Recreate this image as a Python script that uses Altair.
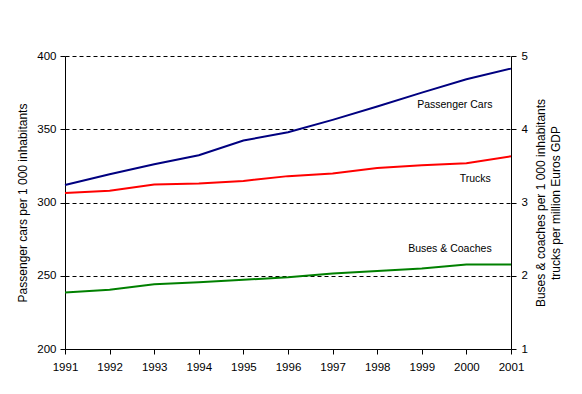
import altair as alt
import pandas as pd

years = [1991, 1992, 1993, 1994, 1995, 1996, 1997, 1998, 1999, 2000, 2001]
passenger_cars = [312, 319.3, 326.1, 332.3, 342.3, 348, 356.4, 365.5, 375, 384.1, 391.4]
trucks = [3.13, 3.16, 3.245, 3.26, 3.295, 3.36, 3.395, 3.47, 3.51, 3.535, 3.63]
buses = [1.77, 1.81, 1.885, 1.91, 1.945, 1.98, 2.03, 2.065, 2.1, 2.155, 2.155]

left_labels = ["Passenger Cars"]
left_label_x = [1999.74]
left_label_y = [366.6]
right_labels = ["Trucks", "Buses & Coaches"]
right_label_x = [2000.2, 1999.63]
right_label_y = [3.32, 2.365]

FONT = "Liberation Sans"

cars_df = pd.DataFrame({"year": years, "v": passenger_cars})
rb_df = pd.DataFrame({
    "year": years * 2,
    "v": trucks + buses,
    "series": ["Trucks"] * len(years) + ["Buses & Coaches"] * len(years),
})
ll_df = pd.DataFrame({"year": left_label_x, "v": left_label_y, "t": left_labels})
rl_df = pd.DataFrame({"year": right_label_x, "v": right_label_y, "t": right_labels})

x_enc = alt.X(
    "year:Q",
    scale=alt.Scale(domain=[1991, 2001], nice=False, zero=False),
    axis=alt.Axis(
        values=years, format="d", title=None, grid=False,
        tickSize=5, labelPadding=7, labelFontSize=11.5, labelFont=FONT,
        labelColor="black", domainColor="black", tickColor="black",
        labelFlush=False, labelOverlap=False,
    ),
)

y_left = alt.Y(
    "v:Q",
    scale=alt.Scale(domain=[200, 400], nice=False, zero=False),
    axis=alt.Axis(
        orient="left", values=[200, 250, 300, 350, 400],
        title="Passenger cars per 1 000 inhabitants",
        titleFont=FONT, titleFontSize=12, titleFontWeight="normal", titleColor="black",
        titlePadding=7,
        labelFont=FONT, labelFontSize=11.5, labelColor="black", labelPadding=4,
        tickSize=5, tickColor="black", domainColor="black",
        grid=True, gridColor="black", gridDash=[4, 3], gridWidth=1, gridOpacity=1,
    ),
)

y_right = alt.Y(
    "v:Q",
    scale=alt.Scale(domain=[1, 5], nice=False, zero=False),
    axis=alt.Axis(
        orient="right", values=[1, 2, 3, 4, 5],
        title=["Buses & coaches per 1 000 inhabitants", "trucks per million Euros GDP"],
        titleAngle=270, titleBaseline="middle", titleAlign="center",
        titleX=29, titleY=146.5,
        titleFont=FONT, titleFontSize=12, titleFontWeight="normal", titleColor="black",
        titleLineHeight=15,
        labelFont=FONT, labelFontSize=11.5, labelColor="black", labelPadding=5,
        tickSize=5, tickColor="black", domainColor="black",
        grid=False,
    ),
)

car_line = alt.Chart(cars_df).mark_line(color="#000080", strokeWidth=2).encode(x=x_enc, y=y_left)
car_text = alt.Chart(ll_df).mark_text(font=FONT, fontSize=10.5, color="black").encode(
    x=x_enc, y=y_left, text="t:N")

rb_line = alt.Chart(rb_df).mark_line(strokeWidth=2).encode(
    x=x_enc, y=y_right,
    color=alt.Color("series:N",
                    scale=alt.Scale(domain=["Trucks", "Buses & Coaches"], range=["#FF0000", "#008000"]),
                    legend=None),
)
rb_text = alt.Chart(rl_df).mark_text(font=FONT, fontSize=10.5, color="black").encode(
    x=x_enc, y=y_right, text="t:N")

left = alt.layer(car_line, car_text)
right = alt.layer(rb_line, rb_text)

chart = alt.layer(left, right).resolve_scale(y="independent").properties(
    width=446, height=293,
    autosize=alt.AutoSizeParams(type="none"),
    padding={"left": 57, "top": 48, "right": 60, "bottom": 37},
    background="white",
).configure_view(stroke=None)

chart.save("out.html", embed_options={"renderer": "svg", "actions": False})
